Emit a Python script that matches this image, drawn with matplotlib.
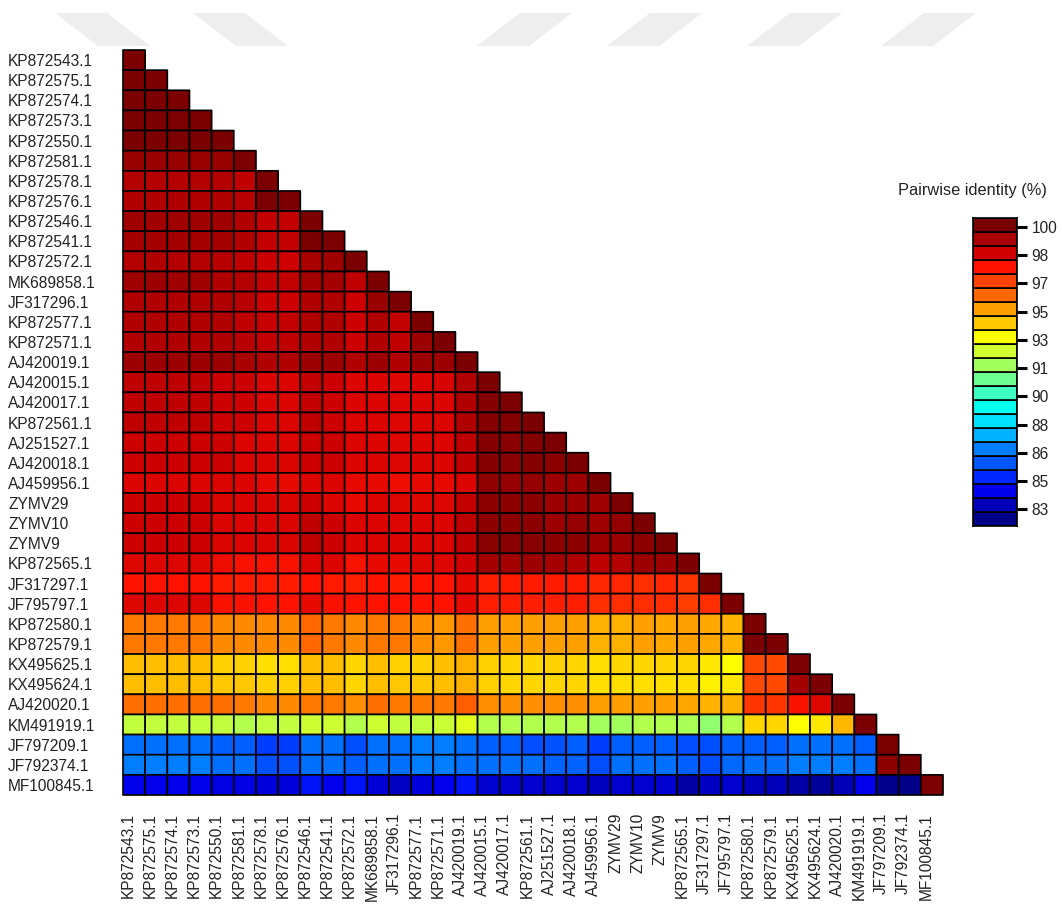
import numpy as np
import matplotlib
matplotlib.use('Agg')
import matplotlib.pyplot as plt
import matplotlib.transforms as mtransforms
from matplotlib.patches import Polygon
from matplotlib.colors import LinearSegmentedColormap, Normalize

plt.rcParams['font.family'] = ['Liberation Sans', 'DejaVu Sans']

labels = ['KP872543.1', 'KP872575.1', 'KP872574.1', 'KP872573.1', 'KP872550.1',
          'KP872581.1', 'KP872578.1', 'KP872576.1', 'KP872546.1', 'KP872541.1',
          'KP872572.1', 'MK689858.1', 'JF317296.1', 'KP872577.1', 'KP872571.1',
          'AJ420019.1', 'AJ420015.1', 'AJ420017.1', 'KP872561.1', 'AJ251527.1',
          'AJ420018.1', 'AJ459956.1', 'ZYMV29', 'ZYMV10', 'ZYMV9',
          'KP872565.1', 'JF317297.1', 'JF795797.1', 'KP872580.1', 'KP872579.1',
          'KX495625.1', 'KX495624.1', 'AJ420020.1', 'KM491919.1', 'JF797209.1',
          'JF792374.1', 'MF100845.1']

# pairwise identity (%), lower triangle, one list per row
identity_rows = [
    [100.0],
    [100.0, 100.0],
    [100.0, 100.0, 100.0],
    [100.0, 100.0, 100.0, 100.0],
    [100.0, 100.0, 100.0, 100.0, 100.0],
    [99.55, 99.55, 99.55, 99.55, 99.55, 100.0],
    [99.06, 99.06, 99.06, 99.06, 99.06, 98.8, 100.0],
    [99.15, 99.15, 99.15, 99.15, 99.15, 98.9, 100.0, 100.0],
    [99.38, 99.38, 99.38, 99.38, 99.38, 99.15, 98.7, 98.7, 100.0],
    [99.31, 99.31, 99.31, 99.31, 99.31, 99.15, 98.7, 98.7, 100.0, 100.0],
    [99.06, 99.15, 99.06, 99.06, 98.9, 98.8, 98.52, 98.43, 99.28, 99.38, 100.0],
    [99.38, 99.45, 99.38, 99.38, 99.15, 99.06, 98.7, 98.7, 99.31, 99.31, 98.8, 100.0],
    [99.15, 99.15, 99.15, 99.15, 99.15, 98.9, 98.52, 98.52, 99.15, 99.15, 98.52, 99.5, 100.0],
    [99.15, 99.15, 99.15, 99.15, 99.15, 98.8, 98.6, 98.7, 99.15, 99.15, 98.52, 99.15, 98.7, 100.0],
    [99.15, 99.15, 99.15, 99.15, 99.15, 98.9, 98.7, 98.8, 99.15, 99.15, 98.52, 99.15, 98.8, 99.45,
     100.0],
    [99.45, 99.45, 99.45, 99.45, 99.45, 99.28, 99.15, 99.15, 99.45, 99.45, 99.15, 99.45, 99.15, 99.45,
     99.45, 100.0],
    [98.8, 98.8, 98.8, 98.8, 98.52, 98.52, 98.2, 98.2, 98.7, 98.52, 98.2, 98.2, 98.15, 98.2,
     98.3, 99.06, 100.0],
    [98.8, 98.8, 98.8, 98.8, 98.52, 98.52, 98.2, 98.2, 98.7, 98.52, 98.2, 98.2, 98.15, 98.2,
     98.2, 99.15, 99.85, 100.0],
    [98.8, 98.8, 98.8, 98.8, 98.52, 98.52, 98.2, 98.2, 98.8, 98.52, 98.2, 98.2, 98.15, 98.2,
     98.2, 99.15, 99.85, 99.85, 100.0],
    [98.52, 98.52, 98.52, 98.52, 98.52, 98.2, 98.2, 98.2, 98.52, 98.52, 98.2, 98.2, 98.15, 98.2,
     98.2, 98.8, 99.85, 99.82, 99.85, 100.0],
    [98.52, 98.52, 98.52, 98.52, 98.52, 98.2, 98.2, 98.2, 98.52, 98.52, 98.2, 98.2, 98.15, 98.2,
     98.2, 98.8, 99.85, 99.82, 99.85, 99.72, 100.0],
    [98.2, 98.2, 98.2, 98.2, 98.2, 98.2, 98.0, 98.0, 98.2, 98.2, 98.0, 98.0, 97.9, 98.0,
     98.0, 98.2, 99.65, 99.58, 99.58, 99.45, 99.45, 100.0],
    [98.52, 98.52, 98.52, 98.52, 98.2, 98.2, 98.2, 98.2, 98.52, 98.2, 98.0, 98.2, 98.15, 98.15,
     98.15, 98.7, 99.72, 99.72, 99.72, 99.45, 99.45, 99.38, 100.0],
    [98.52, 98.52, 98.52, 98.52, 98.2, 98.2, 98.2, 98.2, 98.8, 98.52, 98.2, 98.2, 98.15, 98.2,
     98.2, 98.8, 99.72, 99.72, 99.72, 99.45, 99.58, 99.38, 99.58, 100.0],
    [98.52, 98.52, 98.52, 98.52, 98.2, 98.2, 98.2, 98.2, 98.8, 98.52, 98.2, 98.2, 98.2, 98.2,
     98.2, 98.8, 99.82, 99.82, 99.82, 99.72, 99.72, 99.45, 99.45, 99.72, 100.0],
    [98.15, 98.15, 98.15, 98.15, 97.9, 97.65, 97.65, 97.65, 98.2, 98.2, 97.65, 98.0, 98.0, 98.15,
     98.15, 98.43, 99.31, 99.31, 99.45, 99.31, 99.15, 98.8, 99.06, 99.45, 99.45, 100.0],
    [97.58, 97.58, 97.58, 97.58, 97.48, 97.48, 97.48, 97.48, 97.58, 97.48, 97.38, 97.58, 97.48, 97.58,
     97.58, 98.0, 97.38, 97.45, 97.45, 97.45, 97.45, 97.24, 97.24, 97.1, 97.24, 96.96, 100.0],
    [98.15, 98.15, 98.15, 98.15, 97.65, 97.65, 97.58, 97.58, 98.0, 97.65, 97.58, 97.62, 97.58, 97.58,
     97.58, 98.0, 97.38, 97.38, 97.38, 97.38, 97.38, 97.1, 97.1, 97.1, 97.1, 96.82, 97.1, 100.0],
    [95.66, 95.66, 95.66, 95.66, 95.38, 95.38, 95.38, 95.38, 95.91, 95.66, 95.38, 95.66, 95.66, 95.31,
     95.19, 95.82, 95.06, 95.06, 95.06, 95.06, 95.06, 94.72, 94.72, 95.06, 94.89, 95.06, 94.89, 94.72,
     100.0],
    [95.66, 95.66, 95.66, 95.66, 95.38, 95.38, 95.38, 95.38, 95.91, 95.66, 95.38, 95.66, 95.66, 95.31,
     95.19, 95.82, 95.06, 95.06, 95.06, 95.06, 95.06, 94.72, 94.72, 95.06, 94.89, 95.06, 94.89, 94.72,
     100.0, 100.0],
    [94.39, 94.39, 94.39, 94.39, 94.1, 94.1, 93.85, 93.85, 94.39, 94.39, 93.98, 94.39, 94.1, 94.1,
     94.39, 94.72, 94.1, 93.98, 93.98, 94.1, 93.98, 93.85, 93.98, 93.98, 93.98, 93.98, 93.73, 93.38,
     96.66, 96.66, 100.0],
    [94.39, 94.39, 94.39, 94.39, 94.22, 94.22, 94.1, 94.1, 94.39, 94.39, 93.98, 94.39, 94.22, 94.22,
     94.39, 94.72, 94.1, 93.98, 93.98, 93.98, 93.98, 93.85, 93.85, 93.85, 93.85, 93.85, 93.61, 93.73,
     96.66, 96.66, 99.31, 100.0],
    [95.82, 95.82, 95.82, 95.82, 95.82, 95.66, 95.38, 95.38, 95.66, 95.66, 95.31, 95.82, 95.66, 95.66,
     95.66, 96.13, 95.31, 95.31, 95.31, 95.31, 95.31, 95.06, 95.06, 95.06, 95.06, 94.89, 94.72, 94.72,
     96.96, 96.96, 97.65, 98.15, 100.0],
    [92.25, 92.25, 92.25, 92.25, 92.25, 91.97, 92.25, 92.25, 92.45, 92.45, 91.97, 92.45, 92.25, 92.25,
     92.39, 92.82, 91.97, 91.97, 91.97, 91.97, 91.97, 91.69, 91.69, 91.97, 91.97, 91.83, 91.41, 91.97,
     93.98, 93.98, 93.38, 93.73, 94.56, 100.0],
    [86.29, 86.29, 86.29, 86.29, 85.96, 85.96, 85.34, 85.34, 86.29, 86.29, 85.62, 86.29, 86.29, 86.63,
     86.63, 86.29, 85.96, 85.96, 85.62, 85.73, 85.96, 85.34, 85.96, 85.96, 85.96, 85.62, 85.62, 85.96,
     85.96, 85.96, 86.29, 86.29, 86.29, 85.96, 100.0],
    [86.63, 86.63, 86.63, 86.63, 86.29, 86.29, 85.73, 85.73, 86.29, 86.29, 85.96, 86.29, 86.29, 86.63,
     86.63, 86.29, 86.29, 86.29, 86.29, 86.06, 86.06, 85.62, 86.29, 86.29, 86.29, 85.96, 85.62, 86.1,
     86.29, 86.29, 86.63, 86.63, 86.63, 86.29, 99.72, 100.0],
    [84.1, 84.1, 84.1, 84.1, 84.0, 84.0, 83.8, 83.8, 84.5, 84.1, 84.5, 83.67, 83.42, 83.8,
     84.1, 84.5, 83.6, 83.6, 83.6, 83.6, 83.6, 83.42, 83.6, 83.6, 83.6, 82.95, 83.42, 83.6,
     83.26, 83.26, 82.95, 82.78, 83.2, 84.1, 82.52, 82.41, 100.0],
]

# colour key
cbar_lo, cbar_hi = 81.99, 100.54
cbar_ticks = [100.0, 98.3, 96.6, 94.9, 93.2, 91.5, 89.8, 88.1, 86.4, 84.7, 83.0]
cbar_labels = ['100', '98', '97', '95', '93', '91', '90', '88', '86', '85', '83']
block_colors = ['#780000', '#aa0000', '#d00000', '#ff1400', '#ff4400', '#ff6a00',
                '#ffa000', '#ffc800', '#ffff00', '#d0ff30', '#a0ff60', '#70ff90',
                '#40ffc0', '#00ffee', '#00e0ff', '#00b0ff', '#0080ff', '#0058ff',
                '#0028ff', '#0000ee', '#0000bb', '#000088']  # top -> bottom

n = len(labels)
mat = np.full((n, n), np.nan)
for i, row in enumerate(identity_rows):
    assert len(row) == i + 1, (i, len(row))
    mat[i, :len(row)] = row
data = np.ma.masked_invalid(mat)

step = (cbar_hi - cbar_lo) / len(block_colors)
cmap = LinearSegmentedColormap.from_list('sdt', block_colors[::-1])
norm = Normalize(vmin=cbar_lo + step / 2, vmax=cbar_hi - step / 2)

W, H = 1062, 908
fig = plt.figure(figsize=(W / 100, H / 100), dpi=100)

# faint watermark stripes along the top edge (pixel coords)
for x0, lean in [(55, 1), (193, 1), (520, -1), (650, -1), (790, -1), (924, -1)]:
    top_y, bot_y, w, dx = 13, 46, 52, 43
    xb = x0 + lean * dx
    pts = [(x0, top_y), (x0 + w, top_y), (xb + w, bot_y), (xb, bot_y)]
    pts = [(px / W, 1 - py / H) for px, py in pts]
    fig.patches.append(Polygon(pts, closed=True, transform=fig.transFigure,
                               facecolor='#eeeeee', edgecolor='none', zorder=0))

# matrix
ax = fig.add_axes([123 / W, (H - 795) / H, 820 / W, 745 / H])
pc = ax.pcolor(data, cmap=cmap, norm=norm, edgecolors='black', linewidth=1.2)
pc.set_clip_on(False)
ax.set_xlim(0, n)
ax.set_ylim(n, 0)
ax.set_xticks(np.arange(n) + 0.5, labels, rotation=90, fontsize=11.2, color='#222222')
ax.set_yticks(np.arange(n) + 0.5, labels, fontsize=11.2, color='#222222')
ax.tick_params(length=0)
ax.tick_params(axis='y', pad=115 * 0.72)
ax.tick_params(axis='x', pad=18 * 0.72)
for t in ax.get_yticklabels():
    t.set_ha('left')
shift = mtransforms.ScaledTranslation(-6 / 100, 0, fig.dpi_scale_trans)
for t in ax.get_xticklabels():
    t.set_transform(t.get_transform() + shift)
for s in ax.spines.values():
    s.set_visible(False)

# colour key
cax = fig.add_axes([973 / W, (H - 526) / H, 44 / W, 308 / H])
edges = np.linspace(cbar_lo, cbar_hi, len(block_colors) + 1)
centers = (edges[:-1] + edges[1:]) / 2
cax.pcolor([0, 1], edges, centers.reshape(-1, 1), cmap=cmap, norm=norm,
           edgecolors='black', linewidth=1.2)
cax.set_xlim(0, 1)
cax.set_ylim(cbar_lo, cbar_hi)
cax.set_xticks([])
cax.yaxis.tick_right()
cax.set_yticks(cbar_ticks, cbar_labels, fontsize=11.2, color='#222222')
cax.tick_params(axis='y', length=7, width=2.2, pad=3.5)
for s in cax.spines.values():
    s.set_linewidth(1.2)

fig.text(972.5 / W, 1 - 190 / H, 'Pairwise identity (%)', ha='center', va='center',
         fontsize=11.8, color='#222222')

fig.savefig('out.png', dpi=100)
